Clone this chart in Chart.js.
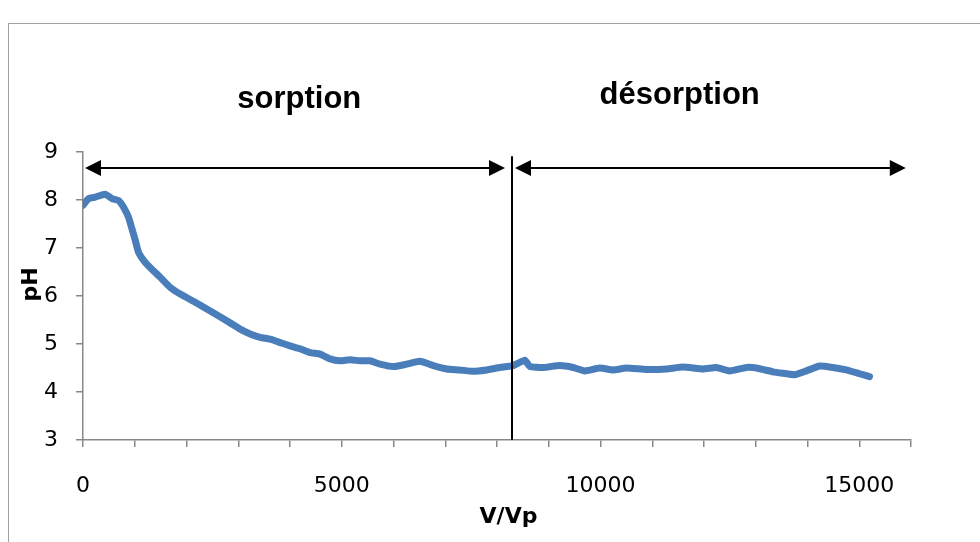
<!DOCTYPE html>
<html>
<head>
<meta charset="utf-8">
<script src="https://cdn.jsdelivr.net/npm/chart.js@4"></script>
<style>
  body { margin: 0; background: #fff; }
  #wrap { width: 980px; height: 542px; }
</style>
</head>
<body>
<div id="wrap"><canvas id="phChart"></canvas></div>
<script>
// pH vs V/Vp

const volumes = [
    0, 108, 237, 430, 560, 687, 784, 880, 946, 1010, 1073, 1203, 1396, 1492,
    1685, 1878, 2168, 2500, 2844, 3037, 3230, 3423, 3616, 3809, 4002, 4195,
    4388, 4581, 4774, 4967, 5160, 5353, 5546, 5739, 5996, 6254, 6511, 6769,
    7027, 7284, 7541, 7799, 8056, 8313, 8539, 8635, 8892, 9214, 9471, 9697,
    9987, 10243, 10500, 10888, 11274, 11595, 11981, 12239, 12496, 12819,
    13012, 13332, 13525, 13751, 13977, 14234, 14490, 14749, 15006, 15199,
];

const phValues = [
    7.89, 8.03, 8.06, 8.12, 8.03, 7.99, 7.85, 7.64, 7.40, 7.16, 6.91, 6.70,
    6.49, 6.39, 6.18, 6.04, 5.87, 5.66, 5.44, 5.31, 5.21, 5.14, 5.10, 5.03,
    4.96, 4.90, 4.82, 4.79, 4.69, 4.65, 4.67, 4.65, 4.65, 4.58, 4.53, 4.58,
    4.64, 4.55, 4.48, 4.46, 4.43, 4.46, 4.51, 4.55, 4.66, 4.53, 4.51, 4.55,
    4.51, 4.44, 4.50, 4.46, 4.50, 4.47, 4.48, 4.52, 4.48, 4.51, 4.44, 4.51,
    4.50, 4.42, 4.39, 4.36, 4.44, 4.54, 4.51, 4.46, 4.38, 4.32,
];

const xTickLabels = ['0', '5000', '10000', '15000'];

// phase annotations (data units)
const splitVolume = 8290;
const arrowPh = 8.67;
const arrowEndVolume = 15900;
const phaseLabels = ['sorption', 'désorption'];
const phaseLabelX = [4180, 11530];
const phaseLabelY = [9.91, 10.0];

const points = volumes.map((v, i) => ({ x: v, y: phValues[i] }));

function arrowHead(ctx, tipX, y, dir) {
    ctx.beginPath();
    ctx.moveTo(tipX, y);
    ctx.lineTo(tipX - dir * 16, y - 8);
    ctx.lineTo(tipX - dir * 16, y + 8);
    ctx.closePath();
    ctx.fill();
}

const phasePlugin = {
    id: 'phases',
    beforeDraw(chart) {
        const ctx = chart.ctx;
        ctx.save();
        ctx.strokeStyle = '#a0a0a0';
        ctx.lineWidth = 1;
        ctx.strokeRect(8.5, 23.5, 2000, 2000);
        ctx.restore();
    },
    afterDraw(chart) {
        const ctx = chart.ctx;
        const xs = chart.scales.x;
        const ys = chart.scales.y;
        const splitPx = Math.round(xs.getPixelForValue(splitVolume));
        const ay = Math.round(ys.getPixelForValue(arrowPh));
        const x0 = xs.getPixelForValue(0) + 2;
        const xEnd = xs.getPixelForValue(arrowEndVolume);

        ctx.save();
        ctx.strokeStyle = '#000';
        ctx.fillStyle = '#000';
        ctx.lineWidth = 2;

        // vertical split line
        ctx.beginPath();
        ctx.moveTo(splitPx, ys.getPixelForValue(8.91));
        ctx.lineTo(splitPx, ys.getPixelForValue(3));
        ctx.stroke();

        // sorption arrow
        ctx.beginPath();
        ctx.moveTo(x0 + 8, ay);
        ctx.lineTo(splitPx - 15, ay);
        ctx.stroke();
        arrowHead(ctx, x0, ay, -1);
        arrowHead(ctx, splitPx - 7, ay, 1);

        // desorption arrow
        ctx.beginPath();
        ctx.moveTo(splitPx + 10, ay);
        ctx.lineTo(xEnd - 8, ay);
        ctx.stroke();
        arrowHead(ctx, splitPx + 3, ay, -1);
        arrowHead(ctx, xEnd, ay, 1);

        // labels
        ctx.font = 'bold 31px "Liberation Sans", Arial, sans-serif';
        ctx.textAlign = 'center';
        ctx.textBaseline = 'alphabetic';
        phaseLabels.forEach((t, i) => {
            ctx.fillText(t, xs.getPixelForValue(phaseLabelX[i]), ys.getPixelForValue(phaseLabelY[i]));
        });
        ctx.restore();
    }
};

const config = {
    type: 'line',
    data: {
        datasets: [{
            label: 'pH',
            data: points,
            borderColor: '#4a7ebb',
            backgroundColor: '#4a7ebb',
            borderWidth: 7,
            borderCapStyle: 'round',
            borderJoinStyle: 'round',
            pointRadius: 0,
            tension: 0.15,
        }]
    },
    options: {
        responsive: true,
        maintainAspectRatio: false,
        animation: false,
        layout: { padding: { top: 152, right: 69, left: 0, bottom: 0 } },
        plugins: {
            legend: { display: false },
            tooltip: { enabled: false },
        },
        scales: {
            x: {
                type: 'linear',
                min: 0,
                max: 16000,
                afterFit(scale) { scale.height = 102; },
                border: { color: '#888', width: 1.5 },
                grid: { drawOnChartArea: false, drawTicks: true, tickLength: 7, color: '#888', lineWidth: 1.5 },
                ticks: {
                    stepSize: 1000,
                    autoSkip: false,
                    maxRotation: 0,
                    padding: 26,
                    color: '#000',
                    font: { family: 'DejaVu Sans', size: 22 },
                    callback: (v) => (v % 5000 === 0 ? xTickLabels[v / 5000] : ''),
                },
                title: {
                    display: true,
                    text: '\u00a0\u00a0\u00a0V/Vp',
                    color: '#000',
                    font: { family: 'DejaVu Sans', size: 22, weight: 'bold' },
                    padding: { top: 0, bottom: 12 },
                },
            },
            y: {
                min: 3,
                max: 9,
                afterFit(scale) { scale.width = 83; },
                border: { color: '#888', width: 1.5 },
                grid: { drawOnChartArea: false, drawTicks: true, tickLength: 7, color: '#888', lineWidth: 1.5 },
                ticks: {
                    stepSize: 1,
                    padding: 18,
                    color: '#000',
                    font: { family: 'DejaVu Sans', size: 22 },
                },
                title: {
                    display: true,
                    text: '\u00a0\u00a0\u00a0pH',
                    color: '#000',
                    font: { family: 'DejaVu Sans', size: 22, weight: 'bold' },
                    padding: { top: 18, bottom: 0 },
                },
            },
        },
    },
    plugins: [phasePlugin],
};

const phChart = new Chart(document.getElementById('phChart'), config);
</script>
</body>
</html>
